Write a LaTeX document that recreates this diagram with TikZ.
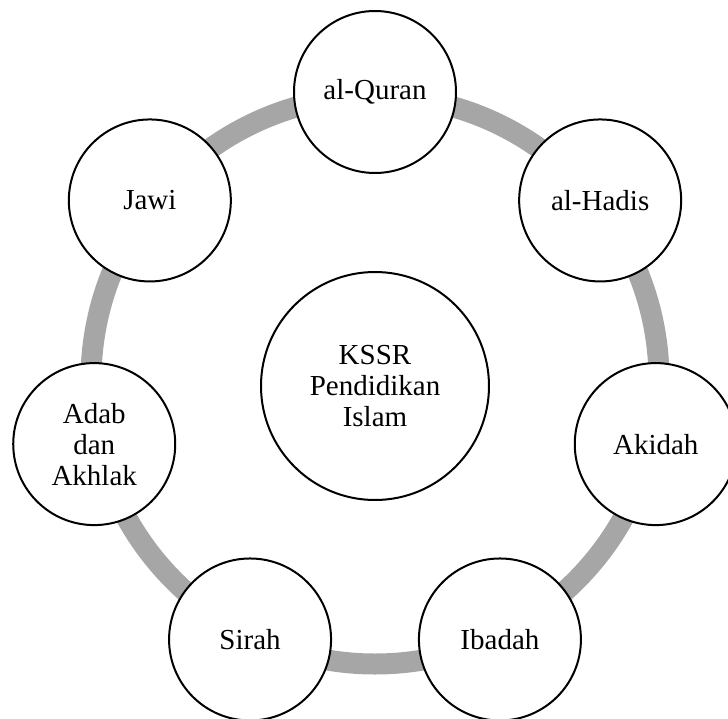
\documentclass[tikz,border=0pt]{standalone}
\usepackage{fontspec}
\setmainfont{Liberation Serif}
\definecolor{ringgray}{HTML}{A6A6A6}
\tikzset{
  topic/.style={circle, draw=black, line width=2pt, fill=white, minimum size=162pt, inner sep=0pt, align=center, font=\fontsize{29}{31}\selectfont},
  hub/.style={topic, minimum size=228pt},
  ring/.style={draw=ringgray, line width=21pt}
}
\begin{document}
\begin{tikzpicture}[x=1pt,y=1pt]
      \useasboundingbox (-375,-338) rectangle (353,380);
      \coordinate (c) at (0,0);
      \draw[ring] (c) circle (284);

      \node[topic] (quran) at (90:288) {al-Quran};
      \node[topic] (hadis) at (38.57:288) {al-Hadis};
      \node[topic] (akidah) at (-12.86:288) {Akidah};
      \node[topic] (ibadah) at (-64.29:288) {Ibadah};
      \node[topic] (sirah) at (-115.71:288) {Sirah};
      \node[topic] (adab) at (-167.14:288) {Adab\\dan\\Akhlak};
      \node[topic] (jawi) at (141.43:288) {Jawi};

      \node[hub] (kssr) at (0,-6) {KSSR\\Pendidikan\\Islam};
\end{tikzpicture}
\end{document}
